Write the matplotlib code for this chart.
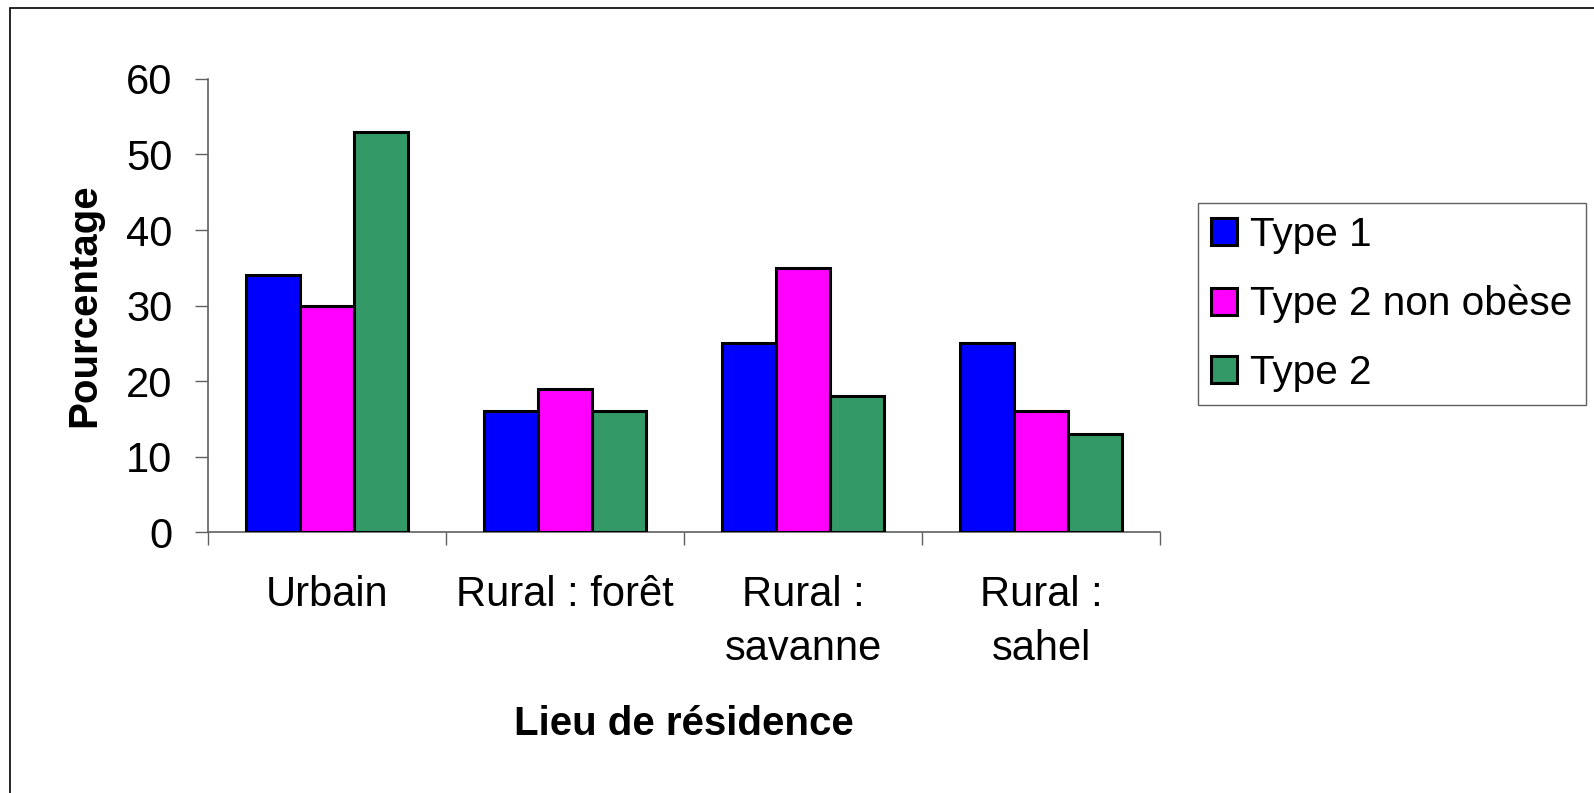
import numpy as np
import matplotlib
matplotlib.use("Agg")
import matplotlib.pyplot as plt
from matplotlib.patches import Rectangle

plt.rcParams["font.family"] = "Liberation Sans"

# data
categories = ["Urbain", "Rural : forêt", "Rural :\nsavanne", "Rural :\nsahel"]
series_names = ["Type 1", "Type 2 non obèse", "Type 2"]
type1 = [34, 16, 25, 25]
type2_non_obese = [30, 19, 35, 16]
type2 = [53, 16, 18, 13]
series_values = [type1, type2_non_obese, type2]
colors = ["#0000FF", "#FF00FF", "#339966"]

W, H = 1594, 793
fig = plt.figure(figsize=(W / 100, H / 100), dpi=100)
ax = fig.add_axes([208 / W, 1 - 532 / H, (1160 - 208) / W, (532 - 79) / H])

x = np.arange(len(categories))
bw = 0.227
for i, (name, vals) in enumerate(zip(series_names, series_values)):
    ax.bar(x + (i - 1) * bw, vals, width=bw, color=colors[i],
           edgecolor="black", linewidth=2.2, label=name, zorder=3)

ax.set_xlim(-0.5, len(categories) - 0.5)
ax.set_ylim(0, 60)
ax.set_yticks(np.arange(0, 61, 10))

# category labels at centres, tick marks at the boundaries
ax.set_xticks(x)
ax.set_xticklabels(categories, fontsize=30, linespacing=1.45)
ax.set_xticks(np.arange(-0.5, len(categories), 1), minor=True)
ax.tick_params(axis="x", which="major", length=0, pad=31)
ax.tick_params(axis="x", which="minor", length=9.5, width=1, color="#606060")
ax.tick_params(axis="y", labelsize=30, length=9.5, width=1, color="#606060", pad=16)

for side in ["top", "right"]:
    ax.spines[side].set_visible(False)
for side in ["left", "bottom"]:
    ax.spines[side].set_color("#606060")
    ax.spines[side].set_linewidth(1.2)

ax.set_ylabel("Pourcentage", fontsize=29, weight="bold")
ax.yaxis.set_label_coords(-0.11, 0.5)
ax.set_xlabel("Lieu de résidence", fontsize=29, weight="bold")
ax.xaxis.set_label_coords(0.5, -0.383)

leg = fig.legend(loc="upper left", bbox_to_anchor=(1198 / W, 1 - 203 / H),
                 fontsize=29.2, frameon=True, fancybox=False, framealpha=1,
                 handlelength=0.65, handleheight=0.65, handletextpad=0.32,
                 labelspacing=0.76, borderpad=0.32, borderaxespad=0)
leg.get_frame().set_edgecolor("#606060")
leg.get_frame().set_linewidth(1)

# outer chart border (only top and left are inside the picture)
fig.patches.append(Rectangle((10 / W, -0.5), 2, 1 - 8 / H + 0.5,
                             transform=fig.transFigure, fill=False,
                             edgecolor="black", linewidth=1.2))

fig.savefig("out.png", dpi=100)
